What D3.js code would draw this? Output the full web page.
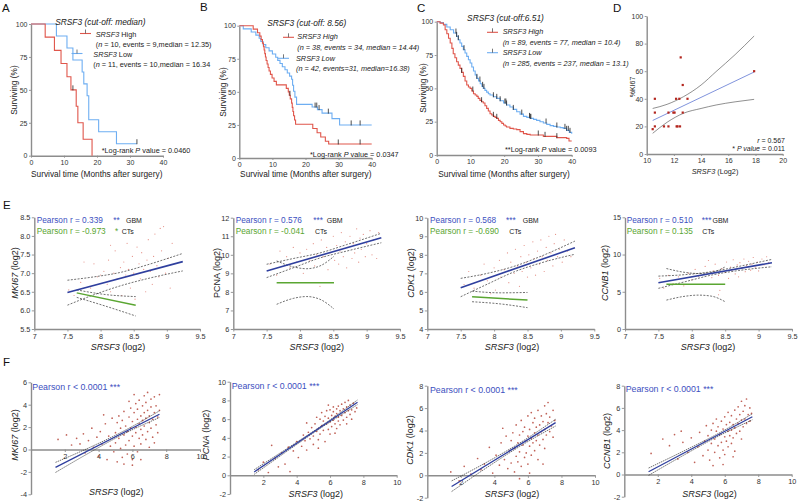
<!DOCTYPE html>
<html><head><meta charset="utf-8">
<script src="https://cdn.jsdelivr.net/npm/d3@7"></script>
<style>body{margin:0;background:#fff}</style>
</head><body>
<svg id="c" width="800" height="503"></svg>
<script>
// ---------------- DATA ----------------
const kmXTicks = [0,10,20,30,40];
const kmYTicks = [0,25,50,75,100];
// Panel A
const A_high = [[0,100],[4.3,90],[7.1,80],[9.1,70],[10.9,60],[12.1,50],[13.7,37.5],[14.2,25],[15.8,12.5],[18.5,0]];
const A_highCens = [12.7];
const A_low = [[0,100],[7.7,90.9],[10.9,81.8],[12.7,72.7],[15.5,63.6],[16.0,54.5],[17.0,45.5],[17.5,27.3],[20.5,18.2],[25.9,9.1],[32.1,9.1]];
const A_lowCens = [32.1];
// Panel B
const B_high = [[0,100],[4.2,97.4],[5.5,94.7],[6.2,92.1],[6.6,89.5],[7.0,86.8],[7.3,84.2],[7.5,81.6],[7.7,78.9],[7.9,76.3],[8.1,73.7],[8.4,71.1],[8.7,68.4],[9.0,65.8],[9.4,63.2],[9.9,60.5],[10.5,57.9],[11.2,55.3],[14.2,52.6],[14.8,50],[15.1,47.4],[15.4,44.7],[15.8,41.5],[16.0,38.3],[16.2,35.1],[16.4,31.9],[16.7,28.7],[17.0,25.5],[22.2,22.3],[23.5,19.1],[24.6,15.9],[26.0,12.7],[27.0,10.6],[40,10.6]];
const B_highCens = [15.3,29.9,36.5];
const B_low = [[0,100],[1.2,97.6],[3.6,95.2],[5.0,92.9],[6.0,90.5],[6.5,88.1],[7.2,85.7],[8.0,83.3],[9.0,81.0],[10.0,78.6],[11.0,76.2],[11.6,73.8],[12.3,71.4],[13.0,69.0],[13.8,66.7],[14.5,64.3],[15.2,61.9],[15.8,59.5],[16.1,55.0],[16.4,50.5],[16.8,46.0],[17.3,40.5],[22.0,38.5],[23.6,36.6],[25.0,33.9],[28.0,29.8],[30.3,25.0],[40,25.0]];
const B_lowCens = [22.9,23.4,24.1,26.9,33.8,36.5];
// Panel C
const C_high = [[0,100],[1.0,98.9],[2.0,97.5],[2.5,94],[3.0,91],[3.5,87.6],[4.0,84],[4.5,80],[4.9,76],[5.4,73],[5.9,70],[6.4,67.4],[6.9,65],[7.4,62],[7.9,59],[8.4,55.5],[8.9,52.5],[9.4,51],[9.9,50],[10.4,48],[10.9,46],[11.4,45],[11.9,44],[12.3,42.5],[12.8,41],[13.3,40],[13.8,39],[14.3,37],[14.8,35],[15.3,33],[15.8,31],[16.3,30],[16.8,29],[17.3,28.2],[17.8,27.5],[18.3,26],[18.8,25],[19.3,23.7],[19.8,22.5],[20.3,21.7],[20.7,21],[21.7,20],[22.7,19.5],[23.7,19],[24.7,17.5],[25.7,16],[26.7,15.5],[27.7,15],[31.6,14],[35.6,13],[38.5,12.5],[39.2,10.5],[40,10.5]];
const C_highCens = [7.4,10.7,13.3,16.8,17.8,30.1,32.1,35.6];
const C_low = [[0,100],[1,99.3],[2,98],[3,96],[4,94],[5,91.5],[5.9,89],[6.4,86.5],[6.9,84],[7.4,81.5],[7.9,79],[8.4,76.5],[8.9,74],[9.4,71.5],[9.9,69],[10.4,66],[10.9,63],[11.4,60],[11.9,57.5],[12.4,55.5],[12.9,53.5],[13.4,51.5],[13.8,50],[14.3,48.5],[14.8,47.2],[15.3,46],[15.8,45],[16.8,43.7],[17.8,42.5],[18.8,40.7],[19.8,39],[20.7,37.5],[21.7,36],[22.7,34.2],[23.7,32.5],[24.7,30.7],[25.7,29],[26.7,28.2],[27.7,27.5],[28.7,26.7],[29.6,26],[30.6,25],[31.6,24],[32.6,23],[33.6,22],[34.6,21.5],[35.6,21],[36.6,20.5],[37.5,20],[38.5,18.5],[39.3,17],[40,16]];
const C_lowCens = [5.7,5.9,6.4,8.1,11.9,12.8,13.6,14.0,16.8,17.8,18.8,20.2,20.5,20.7,22.7,25.2,27.5,27.7,27.9,32.4,35.6,38.0,38.5,39.0,39.5];
// Panel D
const dXTicks = [10,12,14,16,18,20];
const dYTicks = [0,20,40,60,80,100];
const D_points = [[10.44,18],[10.6,40],[10.6,30],[10.6,20],[11.27,20],[11.6,30],[11.6,20],[11.96,30],[12.05,30],[12.16,40],[12.2,20],[12.27,20],[12.45,20],[12.4,40],[12.5,70],[12.65,50],[12.65,30],[13.0,40],[17.9,60]];
const D_fit = [[10.44,24.3],[17.9,59.4]];
const D_ciUp = [[10.44,33],[11.5,36],[12.7,41.5],[14,50],[15.1,59.7],[16.5,72],[17.9,85.5]];
const D_ciLo = [[10.44,15],[11.5,23],[12.7,29.5],[14,33],[15.1,35.5],[16.5,37.8],[17.9,39.6]];
// Panel E
const eXTicks = [7,7.5,8,8.5,9,9.5];
const e1YTicks = [5.5,6,6.5,7,7.5,8,8.5];
const e2YTicks = [6,7,8,9,10,11,12];
const e3YTicks = [4,5,6,7,8,9,10];
const e4YTicks = [0,5,10,15];
const E1_pts = [[7.52,6.55],[7.6,6.4],[7.7,6.75],[7.85,6.6],[7.9,7.25],[7.95,6.9],[8.0,6.95],[8.05,7.05],[8.1,6.7],[8.12,7.35],[8.15,6.5],[8.2,7.0],[8.22,7.6],[8.25,6.85],[8.3,7.15],[8.32,6.4],[8.35,7.3],[8.38,6.95],[8.4,7.8],[8.42,7.1],[8.45,6.6],[8.48,7.45],[8.5,7.0],[8.52,6.3],[8.55,7.7],[8.58,7.25],[8.6,6.85],[8.62,7.55],[8.65,7.1],[8.68,6.5],[8.7,7.35],[8.72,7.9],[8.75,7.05],[8.78,6.7],[8.8,7.45],[8.82,8.05],[8.85,7.2],[8.88,6.9],[8.9,8.2],[8.92,7.6],[8.95,8.25],[8.98,7.0],[9.02,7.4],[9.05,6.6],[9.08,7.8],[8.0,8.2],[8.15,7.75],[7.75,7.3]];
const E1_gbm = [[7.5,6.48],[9.24,7.31]];
const E1_gbmUp = [[7.5,6.81],[7.9,6.9],[8.3,7.02],[8.7,7.22],[9.24,7.53]];
const E1_gbmLo = [[7.5,6.14],[7.9,6.42],[8.3,6.66],[8.7,6.85],[9.24,7.06]];
const E1_ct = [[7.64,6.47],[8.53,6.14]];
const E1_ctUp = [[7.64,6.55],[8.1,6.42],[8.53,6.37]];
const E1_ctLo = [[7.64,6.35],[8.1,6.1],[8.53,5.85]];
const E2_pts = [[7.55,9.5],[7.65,8.9],[7.8,9.9],[7.85,9.3],[7.9,10.4],[7.95,9.6],[8.0,10.1],[8.05,9.0],[8.1,10.3],[8.15,9.7],[8.2,10.6],[8.22,9.4],[8.25,10.0],[8.3,8.3],[8.32,10.8],[8.35,9.9],[8.4,10.4],[8.42,9.2],[8.45,10.1],[8.5,11.0],[8.52,9.7],[8.55,10.5],[8.58,9.5],[8.6,10.2],[8.62,11.2],[8.65,9.9],[8.68,10.7],[8.7,9.3],[8.72,10.4],[8.75,11.0],[8.78,9.8],[8.8,10.6],[8.82,10.1],[8.85,11.4],[8.88,9.6],[8.9,10.9],[8.92,10.3],[8.95,11.1],[8.98,9.9],[9.0,10.6],[9.05,11.3],[9.08,10.0],[9.1,10.8],[9.15,9.8],[9.18,11.2],[7.7,10.2]];
const E2_gbm = [[7.5,9.13],[9.22,10.92]];
const E2_gbmUp = [[7.5,9.49],[7.9,9.8],[8.3,10.1],[8.7,10.55],[9.22,11.16]];
const E2_gbmLo = [[7.5,8.77],[7.9,9.3],[8.3,9.83],[8.7,10.2],[9.22,10.65]];
const E2_ct = [[7.65,8.5],[8.51,8.5]];
const E2_ctUp = [[7.65,9.67],[7.9,9.35],[8.1,9.25],[8.3,9.4],[8.51,9.92]];
const E2_ctLo = [[7.65,7.33],[7.9,7.65],[8.1,7.75],[8.3,7.6],[8.51,7.08]];
const E3_pts = [[7.55,6.4],[7.62,7.1],[7.7,6.2],[7.8,6.9],[7.85,7.5],[7.9,6.6],[8.0,7.3],[8.02,6.1],[8.08,7.7],[8.1,6.8],[8.15,7.2],[8.2,8.1],[8.22,6.5],[8.25,7.6],[8.3,7.0],[8.32,8.3],[8.35,7.4],[8.38,6.3],[8.4,7.9],[8.42,7.1],[8.45,8.5],[8.48,7.6],[8.5,6.8],[8.52,8.0],[8.55,7.3],[8.58,8.7],[8.6,7.8],[8.62,6.9],[8.65,8.2],[8.68,7.5],[8.7,8.8],[8.72,7.9],[8.75,7.1],[8.78,8.4],[8.8,7.7],[8.82,9.0],[8.85,8.1],[8.88,7.4],[8.9,8.6],[8.92,9.1],[8.95,7.9],[8.98,8.3],[9.02,7.6],[9.05,8.8],[9.1,8.2],[9.15,7.9],[7.95,5.9]];
const E3_gbm = [[7.5,6.23],[9.21,8.38]];
const E3_gbmUp = [[7.5,6.73],[7.9,7.0],[8.3,7.38],[8.7,7.92],[9.21,8.74]];
const E3_gbmLo = [[7.5,5.74],[7.9,6.42],[8.3,7.08],[8.7,7.56],[9.21,8.03]];
const E3_ct = [[7.67,5.74],[8.5,5.56]];
const E3_ctUp = [[7.67,6.04],[8.1,5.95],[8.5,5.97]];
const E3_ctLo = [[7.67,5.47],[8.1,5.35],[8.5,5.15]];
const E4_pts = [[7.52,6.8],[7.58,5.5],[7.65,7.2],[7.72,6.1],[7.8,7.0],[7.88,5.8],[7.95,7.5],[8.0,6.6],[8.05,8.0],[8.1,7.1],[8.15,6.0],[8.2,8.4],[8.22,7.4],[8.25,9.2],[8.3,6.9],[8.32,7.8],[8.35,8.7],[8.4,7.2],[8.42,5.2],[8.45,8.1],[8.5,7.6],[8.52,9.0],[8.55,6.8],[8.58,8.3],[8.6,7.9],[8.62,9.3],[8.65,7.4],[8.68,8.6],[8.7,7.0],[8.72,8.9],[8.75,8.2],[8.78,9.4],[8.8,7.7],[8.82,8.5],[8.85,9.1],[8.88,7.9],[8.9,8.7],[8.92,9.6],[8.95,8.3],[8.98,9.0],[9.0,7.8],[9.05,9.4],[9.08,8.6],[9.12,9.7],[9.15,8.9],[8.4,4.6]];
const E4_gbm = [[7.5,6.2],[9.2,8.9]];
const E4_gbmUp = [[7.5,7.1],[7.9,7.3],[8.3,7.7],[8.7,8.4],[9.2,9.35]];
const E4_gbmLo = [[7.5,5.46],[7.9,6.35],[8.3,7.25],[8.7,7.85],[9.2,8.36]];
const E4_ct = [[7.62,6.0],[8.5,6.0]];
const E4_ctUp = [[7.62,8.12],[7.9,7.6],[8.1,7.45],[8.3,7.6],[8.5,8.34]];
const E4_ctLo = [[7.62,3.88],[7.9,4.4],[8.1,4.55],[8.3,4.4],[8.5,3.66]];
// Panel F
const fXTicks = [2,4,6,8,10];
const f1YTicks = [-4,-2,0,2,4,6];
const f2YTicks = [-2,0,2,4,6,8,10];
const f34YTicks = [-2,0,2,4,6,8];
const F1_pts = [[1.6,0.9],[2.1,1.3],[2.4,0.4],[2.7,1.0],[2.9,0.5],[3.1,1.4],[3.2,-0.3],[3.4,0.8],[3.6,1.9],[3.7,0.2],[3.9,1.1],[4.0,-0.6],[4.1,1.6],[4.2,0.5],[4.4,2.3],[4.5,-0.9],[4.6,1.2],[4.7,0.3],[4.8,2.8],[4.9,-0.2],[5.0,1.5],[5.0,0.6],[5.1,2.4],[5.1,-1.1],[5.2,1.0],[5.2,3.0],[5.3,0.1],[5.3,1.9],[5.4,-0.7],[5.4,2.6],[5.5,1.3],[5.5,3.4],[5.6,0.4],[5.6,2.1],[5.7,-0.4],[5.7,1.6],[5.8,2.9],[5.8,0.8],[5.9,3.7],[5.9,1.9],[6.0,-0.9],[6.0,2.5],[6.0,1.2],[6.1,3.3],[6.1,0.3],[6.2,2.0],[6.2,4.1],[6.2,1.5],[6.3,2.7],[6.3,-0.2],[6.3,3.6],[6.4,1.0],[6.4,2.3],[6.4,4.4],[6.5,3.0],[6.5,1.8],[6.5,0.5],[6.6,2.6],[6.6,3.9],[6.6,1.3],[6.7,4.8],[6.7,2.1],[6.7,3.3],[6.8,0.9],[6.8,2.8],[6.8,4.2],[6.9,1.6],[6.9,3.5],[6.9,5.1],[7.0,2.4],[7.0,3.0],[7.0,0.2],[7.1,4.5],[7.1,1.9],[7.1,3.8],[7.2,2.7],[7.2,1.1],[7.3,3.3],[7.3,4.7],[7.4,2.2],[7.4,3.9],[7.5,2.9],[7.5,1.5],[7.6,3.5],[7.6,4.9],[6.0,-1.4],[5.5,-1.3],[6.5,-0.9],[5.8,4.3],[6.1,4.9],[4.3,3.1],[7.3,0.6]];
const F1_fit = [[1.45,-1.6],[7.6,3.15]];
const F1_up = [[1.45,-1.15],[3.5,0.2],[5.5,1.66],[7.6,3.45]];
const F1_lo = [[1.45,-2.05],[3.5,-0.25],[5.5,1.4],[7.6,2.85]];
const F2_pts = [[1.7,0.6],[2.0,1.4],[2.3,0.3],[2.5,3.2],[2.7,1.8],[2.9,0.9],[3.1,2.4],[3.3,1.2],[3.5,3.0],[3.6,0.4],[3.8,2.6],[4.0,3.6],[4.1,1.9],[4.3,3.1],[4.4,4.3],[4.5,3.7],[4.6,2.7],[4.7,4.6],[4.8,3.9],[4.9,5.1],[5.0,4.2],[5.0,3.3],[5.1,5.5],[5.2,4.7],[5.2,6.2],[5.3,3.8],[5.3,5.0],[5.4,4.4],[5.4,6.0],[5.5,5.3],[5.5,6.7],[5.6,4.8],[5.6,5.8],[5.7,6.3],[5.7,3.6],[5.8,5.5],[5.8,6.9],[5.9,4.9],[5.9,6.1],[6.0,5.7],[6.0,7.0],[6.0,4.4],[6.1,6.4],[6.1,5.2],[6.2,6.8],[6.2,5.9],[6.2,7.3],[6.3,5.5],[6.3,6.3],[6.4,7.1],[6.4,5.0],[6.4,6.6],[6.5,5.8],[6.5,7.4],[6.5,6.2],[6.6,6.9],[6.6,5.4],[6.7,7.6],[6.7,6.4],[6.8,5.9],[6.8,7.1],[6.9,6.7],[6.9,7.8],[7.0,6.2],[7.0,7.3],[7.0,5.5],[7.1,6.9],[7.1,8.0],[7.2,6.5],[7.2,7.5],[7.3,7.0],[7.3,6.0],[7.4,7.7],[7.5,6.8],[7.6,7.2],[5.3,2.9],[4.6,5.6],[5.9,7.5],[6.3,4.5]];
const F2_fit = [[1.45,0.35],[7.65,7.8]];
const F2_up = [[1.45,0.6],[3.5,2.95],[5.5,5.3],[7.65,8.05]];
const F2_lo = [[1.45,0.1],[3.5,2.67],[5.5,5.12],[7.65,7.55]];
const F3_pts = [[1.4,0.3],[1.9,-0.5],[2.2,0.8],[2.6,0.1],[3.0,1.5],[3.2,0.5],[3.4,1.0],[3.7,2.5],[3.9,0.2],[4.1,1.8],[4.3,0.9],[4.4,2.9],[4.6,1.4],[4.7,3.5],[4.8,0.6],[4.9,2.2],[5.0,3.1],[5.0,1.1],[5.1,3.8],[5.2,2.4],[5.2,0.3],[5.3,1.7],[5.3,4.5],[5.4,2.9],[5.4,1.2],[5.5,3.6],[5.5,2.1],[5.6,4.9],[5.6,0.8],[5.7,2.7],[5.7,3.9],[5.8,1.6],[5.8,4.3],[5.9,3.1],[5.9,2.0],[6.0,5.3],[6.0,3.5],[6.0,1.0],[6.1,2.6],[6.1,4.1],[6.2,3.3],[6.2,5.6],[6.2,1.8],[6.3,4.7],[6.3,2.9],[6.4,3.8],[6.4,5.1],[6.4,2.2],[6.5,4.3],[6.5,3.1],[6.6,5.8],[6.6,3.6],[6.6,1.4],[6.7,4.5],[6.7,2.7],[6.8,5.3],[6.8,3.9],[6.9,4.8],[6.9,3.2],[7.0,6.2],[7.0,4.1],[7.0,2.4],[7.1,5.5],[7.1,3.6],[7.2,4.7],[7.2,6.5],[7.3,3.9],[7.3,5.2],[7.4,4.4],[7.5,5.8],[7.5,3.4],[7.6,4.9],[5.5,-0.3],[6.1,0.2],[4.5,4.2],[6.9,1.0]];
const F3_fit = [[1.45,-1.0],[7.65,4.7]];
const F3_up = [[1.45,-0.5],[3.5,1.13],[5.5,2.87],[7.65,5.0]];
const F3_lo = [[1.45,-1.45],[3.5,0.64],[5.5,2.57],[7.65,4.4]];
const F4_pts = [[1.6,1.9],[2.3,3.2],[2.7,2.6],[3.0,3.6],[3.2,1.4],[3.5,2.9],[3.8,2.0],[4.0,3.3],[4.2,1.1],[4.4,2.5],[4.5,3.8],[4.7,1.7],[4.8,3.0],[4.9,4.4],[5.0,2.2],[5.0,3.5],[5.1,1.3],[5.2,4.0],[5.2,2.8],[5.3,0.8],[5.3,4.6],[5.4,3.2],[5.4,2.0],[5.5,3.9],[5.5,5.0],[5.6,2.6],[5.6,4.3],[5.7,1.5],[5.7,3.6],[5.8,4.8],[5.8,2.9],[5.9,4.1],[5.9,2.2],[6.0,5.2],[6.0,3.4],[6.0,1.8],[6.1,4.5],[6.1,3.0],[6.2,5.6],[6.2,3.9],[6.2,2.5],[6.3,4.7],[6.3,3.5],[6.4,5.3],[6.4,4.0],[6.4,2.8],[6.5,4.5],[6.5,3.3],[6.6,5.8],[6.6,4.2],[6.6,2.1],[6.7,5.0],[6.7,3.7],[6.8,6.1],[6.8,4.6],[6.9,5.4],[6.9,3.9],[7.0,6.6],[7.0,4.9],[7.0,3.2],[7.1,5.7],[7.1,4.3],[7.2,6.2],[7.2,5.0],[7.3,4.6],[7.3,6.8],[7.4,5.4],[7.5,6.0],[7.5,4.8],[7.6,5.5],[5.9,0.9],[6.5,1.6],[3.4,3.9]];
const F4_fit = [[1.45,0.25],[7.65,5.2]];
const F4_up = [[1.45,0.58],[3.5,2.08],[5.5,3.6],[7.65,5.47]];
const F4_lo = [[1.45,-0.08],[3.5,1.7],[5.5,3.36],[7.65,4.93]];

// ---------------- DRAWING ----------------
const FONT = "'Liberation Sans', Arial, Helvetica, sans-serif";
const RED = "#e0564b", LBLUE = "#6eaef2", DBLUE = "#2f3f9e", GREEN = "#5aa632", TBLUE = "#3c4fc0", AXC = "#8d8d8d";
const svg = d3.select("#c");

function styleAxis(g, size) {
  g.select(".domain").attr("stroke", AXC).attr("stroke-width", 1.4);
  g.selectAll(".tick line").attr("stroke", AXC).attr("stroke-width", 0.9);
  g.selectAll(".tick text").attr("fill", "#333").attr("font-size", size || 7).attr("font-family", FONT);
}
function txt(x, y, parts, o = {}) {
  const t = svg.append("text").attr("x", x).attr("y", y).attr("font-family", FONT)
    .attr("font-size", o.size || 8).attr("fill", o.fill || "#222");
  if (o.anchor) t.attr("text-anchor", o.anchor);
  if (o.rotate) t.attr("transform", `rotate(-90,${x},${y})`);
  parts.forEach(p => {
    const s = typeof p === "string" ? [p, false] : p;
    const ts = t.append("tspan").text(s[0]).attr("font-style", s[1] ? "italic" : "normal");
    if (s[2]) ts.attr("fill", s[2]);
    if (s[3]) ts.attr("font-size", s[3]);
  });
  return t;
}
function survAt(curve, t) { let s = curve[0][1]; for (const [tt, ss] of curve) if (tt <= t) s = ss; return s; }
const fmtPlain = d => String(d);

function kmPanel(c) {
  const x = d3.scaleLinear().domain([0, 40]).range([c.x0, c.x1]);
  const y = d3.scaleLinear().domain([0, 100]).range([c.y0, c.y1]);
  svg.append("g").attr("transform", `translate(0,${c.y0})`)
    .call(d3.axisBottom(x).tickValues(kmXTicks).tickFormat(fmtPlain).tickSize(2).tickSizeOuter(0).tickPadding(2))
    .call(g => styleAxis(g));
  svg.append("g").attr("transform", `translate(${c.x0},0)`)
    .call(d3.axisLeft(y).tickValues(kmYTicks).tickFormat(fmtPlain).tickSize(2).tickSizeOuter(0).tickPadding(1.5))
    .call(g => styleAxis(g));
  const line = d3.line().curve(d3.curveStepAfter).x(d => x(d[0])).y(d => y(d[1]));
  [[c.low, LBLUE, c.lowC], [c.high, RED, c.highC]].forEach(([curve, col, cens]) => {
    svg.append("path").attr("d", line(curve)).attr("fill", "none").attr("stroke", col).attr("stroke-width", 1.1);
    svg.selectAll(null).data(cens).enter().append("line")
      .attr("x1", d => x(d)).attr("x2", d => x(d))
      .attr("y1", d => y(survAt(curve, d)) - 4.5).attr("y2", d => y(survAt(curve, d)) + 0.5)
      .attr("stroke", "#222").attr("stroke-width", 0.8);
  });
}

// Panel letters
[["A", 2, 12], ["B", 200, 11], ["C", 417, 12], ["D", 613, 12], ["E", 3, 209], ["F", 3, 366]].forEach(d =>
  txt(d[1], d[2], [d[0]], { size: 11.5, fill: "#111" }));

// ---- A ----
kmPanel({ x0: 31, x1: 163, y0: 155.7, y1: 24, high: A_high, highC: A_highCens, low: A_low, lowC: A_lowCens });
txt(100.3, 24.5, [["SRSF3 (cut-off: median)", true]], { size: 8.4, anchor: "middle" });
function legMark(x, y, col) {
  svg.append("line").attr("x1", x).attr("x2", x + 11).attr("y1", y).attr("y2", y).attr("stroke", col).attr("stroke-width", 1.1);
  svg.append("line").attr("x1", x + 5.5).attr("x2", x + 5.5).attr("y1", y - 4).attr("y2", y).attr("stroke", "#555").attr("stroke-width", 0.8);
}
legMark(80, 33.5, RED); legMark(71.5, 53.5, LBLUE);
txt(95.7, 36.6, [["SRSF3", true], " High"], { size: 7.3 });
txt(95.7, 46.5, ["(", ["n", true], " = 10, events = 9,median = 12.35)"], { size: 7.3 });
txt(93.3, 56.6, [["SRSF3", true], " Low"], { size: 7.3 });
txt(93.3, 66.6, ["(", ["n", true], " = 11, events = 10,median = 16.34"], { size: 7.3 });
txt(101.7, 153.3, ["*Log-rank ", ["P", true], " value = 0.0460"], { size: 7.3 });
txt(16.5, 90, ["Surviving (%)"], { size: 8.3, rotate: true, anchor: "middle" });
txt(96.7, 176.5, ["Survival time (Months after surgery)"], { size: 8.3, anchor: "middle" });

// ---- B ----
kmPanel({ x0: 239.3, x1: 371.7, y0: 158, y1: 25.7, high: B_high, highC: B_highCens, low: B_low, lowC: B_lowCens });
txt(306.7, 25.7, [["SRSF3 (cut-off: 8.56)", true]], { size: 8.4, anchor: "middle" });
legMark(283, 37.3, RED); legMark(278, 58.3, LBLUE);
txt(297.3, 39, [["SRSF3 High", true]], { size: 7.3 });
txt(297.3, 50, [["(n = 38, events = 34, median = 14.44)", true]], { size: 7.3 });
txt(296, 60.7, [["SRSF3 Low", true]], { size: 7.3 });
txt(296, 71, [["(n = 42, events=31, median=16.38)", true]], { size: 7.3 });
txt(310, 156.5, ["*Log-rank ", ["P", true], " value = 0.0347"], { size: 7.3 });
txt(225.5, 92, ["Surviving (%)"], { size: 8.3, rotate: true, anchor: "middle" });
txt(305.8, 176.5, ["Survival time (Months after surgery)"], { size: 8.3, anchor: "middle" });

// ---- C ----
kmPanel({ x0: 436.7, x1: 571.7, y0: 155, y1: 21.7, high: C_high, highC: C_highCens, low: C_low, lowC: C_lowCens });
txt(505.5, 20.7, [["SRSF3 (cut-off:6.51)", true]], { size: 8.4, anchor: "middle" });
legMark(487, 32.3, RED); legMark(487, 52.7, LBLUE);
txt(502.7, 34.3, [["SRSF3 High", true]], { size: 7.3 });
txt(502.7, 44.5, [["(n = 89, events = 77, median = 10.4)", true]], { size: 7.3 });
txt(502.7, 55, [["SRSF3 Low", true]], { size: 7.3 });
txt(502.7, 65.7, [["(n = 285, events = 237, median = 13.1)", true]], { size: 7.3 });
txt(505, 152.3, ["**Log-rank ", ["P", true], " value = 0.0093"], { size: 7.3 });
txt(426, 88, ["Surviving (%)"], { size: 8.3, rotate: true, anchor: "middle" });
txt(504, 176.5, ["Survival time (Months after surgery)"], { size: 8.3, anchor: "middle" });

// ---- D ----
(function () {
  const x = d3.scaleLinear().domain([10, 20]).range([646.7, 782.7]);
  const y = d3.scaleLinear().domain([0, 100]).range([154, 16]);
  svg.append("g").attr("transform", "translate(0,154)")
    .call(d3.axisBottom(x).tickValues(dXTicks).tickFormat(fmtPlain).tickSize(2).tickSizeOuter(0).tickPadding(2)).call(g => styleAxis(g));
  svg.append("g").attr("transform", "translate(646.7,0)")
    .call(d3.axisLeft(y).tickValues(dYTicks).tickFormat(fmtPlain).tickSize(2).tickSizeOuter(0).tickPadding(1.5)).call(g => styleAxis(g));
  const ln = d3.line().curve(d3.curveMonotoneX).x(d => x(d[0])).y(d => y(d[1]));
  [D_ciUp, D_ciLo].forEach(c => svg.append("path").attr("d", ln(c)).attr("fill", "none").attr("stroke", "#444").attr("stroke-width", 0.6));
  svg.append("path").attr("d", ln(D_fit)).attr("fill", "none").attr("stroke", "#7287d8").attr("stroke-width", 0.9);
  svg.selectAll(null).data(D_points).enter().append("rect")
    .attr("x", d => x(d[0]) - 1.1).attr("y", d => y(d[1]) - 1.1).attr("width", 2.2).attr("height", 2.2).attr("fill", "#b3261e");
  txt(785, 143.3, [["r", true], " = 0.567"], { size: 7, anchor: "end" });
  txt(785, 151, ["* ", ["P value", true], " = 0.011"], { size: 7, anchor: "end" });
  txt(634.5, 87, ["%KI67"], { size: 7, rotate: true, anchor: "middle" });
  txt(715, 174, [["SRSF3", true], " (Log2)"], { size: 7.3, anchor: "middle" });
})();

// ---- scatter panels ----
function scatterPanel(c) {
  const x = d3.scaleLinear().domain(c.xd).range([c.x0, c.x1]);
  const y = d3.scaleLinear().domain(c.yd).range([c.y0, c.y1]);
  const axY = c.xAtZero ? y(0) : c.y0;
  svg.append("g").attr("transform", `translate(0,${axY})`)
    .call(d3.axisBottom(x).tickValues(c.xt).tickFormat(fmtPlain).tickSize(2.5).tickSizeOuter(0).tickPadding(2))
    .call(g => styleAxis(g, 7.3));
  svg.append("g").attr("transform", `translate(${c.x0},0)`)
    .call(d3.axisLeft(y).tickValues(c.yt).tickFormat(c.yf || fmtPlain).tickSize(2.5).tickSizeOuter(0).tickPadding(1.5))
    .call(g => styleAxis(g, 7.3));
  svg.selectAll(null).data(c.pts).enter().append("circle")
    .attr("cx", d => x(d[0])).attr("cy", d => y(d[1])).attr("r", c.r || 0.65)
    .attr("fill", c.ptCol).attr("opacity", 0.85);
  const ln = d3.line().curve(d3.curveMonotoneX).x(d => x(d[0])).y(d => y(d[1]));
  (c.dashed || []).forEach(d => svg.append("path").attr("d", ln(d)).attr("fill", "none")
    .attr("stroke", "#333").attr("stroke-width", 0.7).attr("stroke-dasharray", c.dash || "2,1.4"));
  (c.lines || []).forEach(([d, col, w]) => svg.append("path").attr("d", ln(d)).attr("fill", "none")
    .attr("stroke", col).attr("stroke-width", w));
}
const yf1 = d3.format(".1f");
const Epanels = [
  { x0: 34.3, x1: 200, y0: 329, y1: 217.3, yd: [5.5, 8.5], yt: e1YTicks, yf: yf1, pts: E1_pts,
    dashed: [E1_gbmUp, E1_gbmLo, E1_ctUp, E1_ctLo], lines: [[E1_gbm, DBLUE, 1.6], [E1_ct, GREEN, 1.5]] },
  { x0: 233.3, x1: 400, y0: 329, y1: 217.7, yd: [6, 12], yt: e2YTicks, pts: E2_pts,
    dashed: [E2_gbmUp, E2_gbmLo, E2_ctUp, E2_ctLo], lines: [[E2_gbm, DBLUE, 1.6], [E2_ct, GREEN, 1.5]] },
  { x0: 427.3, x1: 594.3, y0: 329, y1: 217.7, yd: [4, 10], yt: e3YTicks, pts: E3_pts,
    dashed: [E3_gbmUp, E3_gbmLo, E3_ctUp, E3_ctLo], lines: [[E3_gbm, DBLUE, 1.6], [E3_ct, GREEN, 1.5]] },
  { x0: 625, x1: 792, y0: 329, y1: 217.3, yd: [0, 15], yt: e4YTicks, pts: E4_pts,
    dashed: [E4_gbmUp, E4_gbmLo, E4_ctUp, E4_ctLo], lines: [[E4_gbm, DBLUE, 1.6], [E4_ct, GREEN, 1.5]] }
];
Epanels.forEach(p => scatterPanel(Object.assign({ xd: [7, 9.5], xt: eXTicks, ptCol: "#e07d72", r: 0.6 }, p)));

const Fpanels = [
  { x0: 31, x1: 200, y0: 494.3, y1: 382.3, yd: [-4, 6], yt: f1YTicks, pts: F1_pts, dashed: [F1_up, F1_lo], lines: [[F1_fit, DBLUE, 1.3]] },
  { x0: 230, x1: 396.7, y0: 494, y1: 381.7, yd: [-2, 10], yt: f2YTicks, pts: F2_pts, dashed: [F2_up, F2_lo], lines: [[F2_fit, DBLUE, 1.3]] },
  { x0: 427.3, x1: 595, y0: 497.7, y1: 385.7, yd: [-2, 8], yt: f34YTicks, pts: F3_pts, dashed: [F3_up, F3_lo], lines: [[F3_fit, DBLUE, 1.3]] },
  { x0: 624.3, x1: 791.7, y0: 496.7, y1: 385.7, yd: [-2, 8], yt: f34YTicks, pts: F4_pts, dashed: [F4_up, F4_lo], lines: [[F4_fit, DBLUE, 1.3]] }
];
Fpanels.forEach(p => scatterPanel(Object.assign({ xd: [0, 10], xt: fXTicks, xAtZero: true, ptCol: "#b5453a", r: 0.85, dash: "1.5,0.8" }, p)));

// E texts
const eTexts = [
  { x: 36.7, r1: "0.339", s1: "**", s1x: 113.3, g: 126, r2: "-0.973", s2: "*", s2x: 115, c: 121.7, yl: ["MKI67", true], ylx: 18, xt: 118 },
  { x: 235.7, r1: "0.576", s1: "***", s1x: 313.3, g: 326.7, r2: "-0.041", s2: "", s2x: 0, c: 315, yl: ["PCNA", false], ylx: 219.5, xt: 316.7 },
  { x: 430, r1: "0.568", s1: "***", s1x: 506, g: 522.7, r2: "-0.690", s2: "", s2x: 0, c: 509.3, yl: ["CDK1", true], ylx: 414, xt: 512 },
  { x: 626.7, r1: "0.510", s1: "***", s1x: 701.7, g: 712.5, r2: "0.135", s2: "", s2x: 0, c: 702.3, yl: ["CCNB1", true], ylx: 608, xt: 708 }
];
eTexts.forEach(t => {
  txt(t.x, 223.3, ["Pearson r = " + t.r1], { size: 8.3, fill: TBLUE });
  txt(t.s1x, 223.3, [t.s1], { size: 8.3, fill: TBLUE });
  txt(t.g, 222.8, ["GBM"], { size: 7, fill: "#222" });
  txt(t.x, 234, ["Pearson r = " + t.r2], { size: 8.3, fill: GREEN });
  if (t.s2) txt(t.s2x, 234, [t.s2], { size: 8.3, fill: GREEN });
  txt(t.c, 233.5, ["CTs"], { size: 7, fill: "#222" });
  txt(t.ylx, 273, [t.yl, " (log2)"], { size: 9, rotate: true, anchor: "middle" });
  txt(t.xt, 350, [["SRSF3", true], " (log2)"], { size: 9, anchor: "middle" });
});

// F texts
const fTexts = [
  { x: 32.3, y: 390, yl: ["MKI67", true], ylx: 17.5, yly: 435, xt: 116.3, xty: 495 },
  { x: 231.7, y: 389, yl: ["PCNA", true], ylx: 208.5, yly: 435, xt: 315.7, xty: 496.7 },
  { x: 430, y: 393.3, yl: ["CDK1", true], ylx: 413, yly: 440, xt: 512, xty: 496.7 },
  { x: 625.7, y: 392.3, yl: ["CCNB1", true], ylx: 609.5, yly: 441, xt: 709.5, xty: 496.7 }
];
fTexts.forEach(t => {
  txt(t.x, t.y, ["Pearson r < 0.0001 ***"], { size: 8.8, fill: TBLUE });
  txt(t.ylx, t.yly, [t.yl, " (log2)"], { size: 9, rotate: true, anchor: "middle" });
  txt(t.xt, t.xty, [["SRSF3", true], " (log2)"], { size: 9, anchor: "middle" });
});
</script>
</body></html>
